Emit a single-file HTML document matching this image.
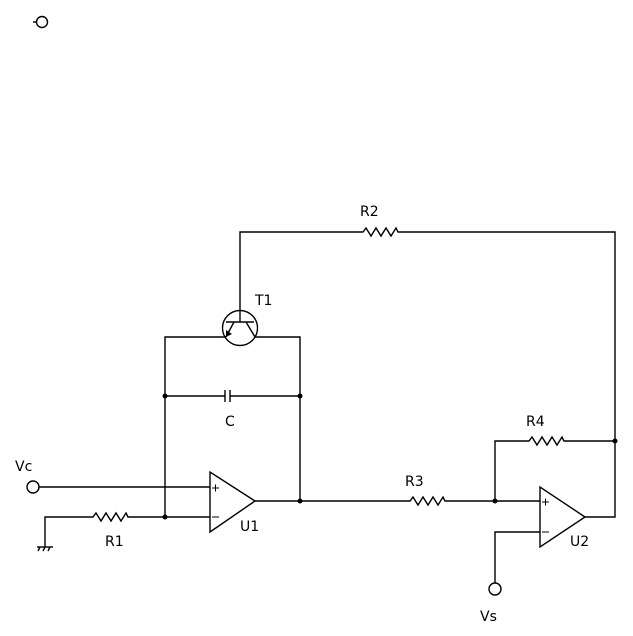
<!DOCTYPE html>
<html><head><style>html,body{margin:0;padding:0;background:#fff}svg{display:block}text{font-family:"DejaVu Sans","Liberation Sans",sans-serif;font-size:14px;fill:#000}</style></head>
<body>
<svg width="633" height="636" viewBox="0 0 633 636" xmlns="http://www.w3.org/2000/svg">
<g fill="none" stroke="#000" stroke-width="1.4">
<line x1="33" y1="22" x2="37" y2="22"/><circle cx="42" cy="22" r="5.5"/>
<polyline points="240,322 240,232 363,232 366,228 371,236 376,228 381,236 386,228 391,236 396,228 398,232 615,232 615,517 585,517"/>
<circle cx="240" cy="328" r="17.5"/>
<line x1="226" y1="322" x2="254" y2="322"/>
<line x1="234" y1="322" x2="226" y2="337"/>
<line x1="246" y1="322" x2="255" y2="337"/>
<polyline points="226,337 165,337 165,517"/>
<polyline points="255,337 300,337 300,501"/>
<line x1="165" y1="396" x2="225" y2="396"/><line x1="230" y1="396" x2="300" y2="396"/>
<line x1="225" y1="390" x2="225" y2="402"/><line x1="230" y1="390" x2="230" y2="402"/>
<circle cx="33" cy="487" r="6"/><line x1="39" y1="487" x2="210" y2="487"/>
<polyline points="45,547 45,517 93,517 96,513 101,521 106,513 111,521 116,513 121,521 126,513 128,517 210,517"/>
<line x1="37" y1="547" x2="53" y2="547"/>
<line x1="38" y1="551" x2="40" y2="547"/><line x1="43" y1="551" x2="45" y2="547"/><line x1="48" y1="551" x2="50" y2="547"/>
<polygon points="210,472 210,532 255,501"/>
<line x1="212" y1="488" x2="219" y2="488" stroke-width="1"/><line x1="215.5" y1="484.5" x2="215.5" y2="491.5" stroke-width="1"/>
<line x1="212" y1="517" x2="219" y2="517" stroke-width="1"/>
<polyline points="255,501 410,501 413,497 418,505 423,497 428,505 433,497 438,505 443,497 445,501 540,501"/>
<polyline points="495,501 495,441 529,441 532,437 537,445 542,437 547,445 552,437 557,445 562,437 564,441 615,441"/>
<polygon points="540,487 540,547 585,517"/>
<line x1="542" y1="502" x2="549" y2="502" stroke-width="1"/><line x1="545.5" y1="498.5" x2="545.5" y2="505.5" stroke-width="1"/>
<line x1="542" y1="532" x2="549" y2="532" stroke-width="1"/>
<polyline points="540,532 495,532 495,583"/>
<circle cx="495" cy="589" r="6"/>
</g>
<polygon points="226,337 226,330 232,334" fill="#000"/>
<g fill="#000">
<circle cx="165" cy="396" r="2.5"/><circle cx="300" cy="396" r="2.5"/>
<circle cx="165" cy="517" r="2.5"/><circle cx="300" cy="501" r="2.5"/>
<circle cx="495" cy="501" r="2.5"/><circle cx="615" cy="441" r="2.5"/>
</g>
<text x="360" y="216">R2</text>
<text x="255" y="305">T1</text>
<text x="225" y="426">C</text>
<text x="15" y="471">Vc</text>
<text x="105" y="546">R1</text>
<text x="240" y="531">U1</text>
<text x="405" y="486">R3</text>
<text x="526" y="426">R4</text>
<text x="570" y="546">U2</text>
<text x="480" y="621">Vs</text>
</svg>
</body></html>
